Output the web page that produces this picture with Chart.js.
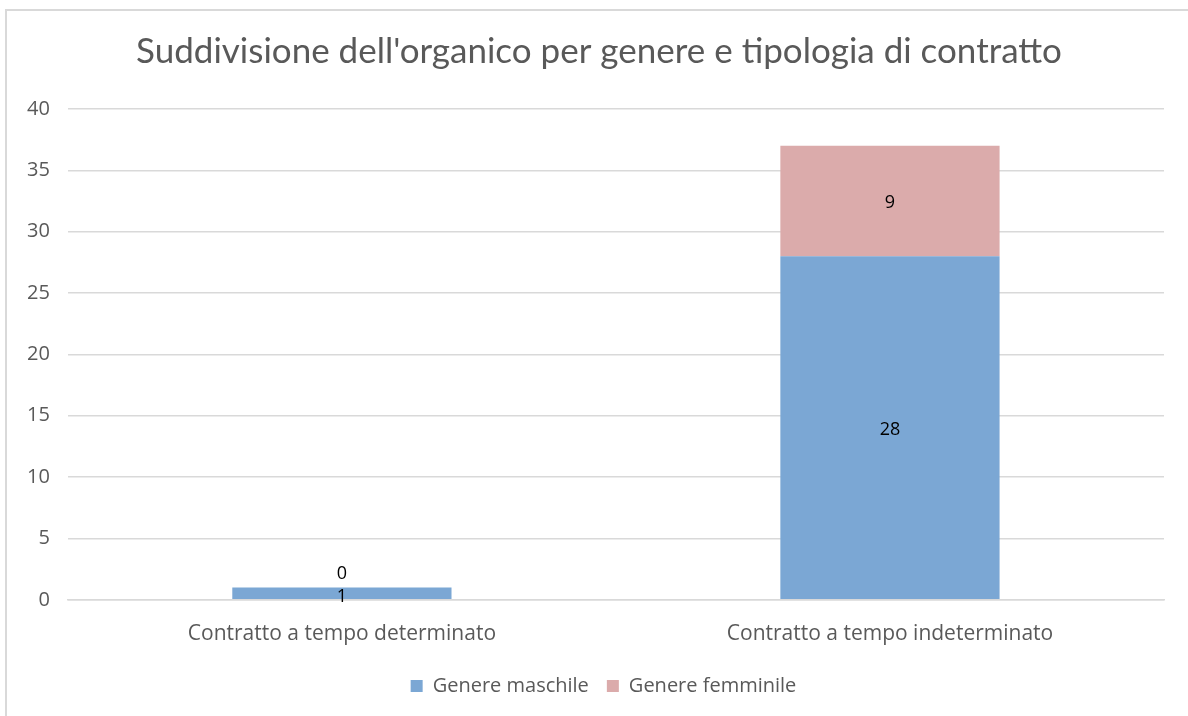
<!DOCTYPE html>
<html>
<head>
<meta charset="utf-8">
<script src="https://cdn.jsdelivr.net/npm/chart.js@4/dist/chart.umd.min.js"></script>
<style>
  html, body { margin: 0; padding: 0; background: #fff; }
  #wrap { position: absolute; left: 0; top: 0; width: 1188px; height: 716px; }
  #frame { position: absolute; left: 5px; top: 9px; width: 1183px; height: 707px;
           border-top: 2px solid #d9d9d9; border-left: 2px solid #d9d9d9; box-sizing: border-box; }
  canvas { position: absolute; left: 0; top: 0; }
</style>
</head>
<body>
<div id="wrap">
  <div id="frame"></div>
  <canvas id="c" width="1188" height="716"></canvas>
</div>
<script>
const titleText = "Suddivisione dell'organico per genere e tipologia di contratto";
const categories = ["Contratto a tempo determinato", "Contratto a tempo indeterminato"];
const seriesNames = ["Genere maschile", "Genere femminile"];
const maschile = [1, 28];
const femminile = [0, 9];
const yTicks = { min: 0, max: 40, step: 5 };

const labelPlugin = {
  id: 'barLabels',
  afterDatasetsDraw(chart) {
    const ctx = chart.ctx;
    ctx.save();
    ctx.font = '18px "Open Sans"';
    ctx.fillStyle = '#000';
    ctx.textAlign = 'center';
    ctx.textBaseline = 'middle';
    chart.data.datasets.forEach((ds, di) => {
      const meta = chart.getDatasetMeta(di);
      meta.data.forEach((el, i) => {
        const v = ds.data[i];
        const p = el.getProps(['x', 'y', 'base'], true);
        let y = (p.y + p.base) / 2 + 2;
        if (v === 0) y = p.y - 14;
        else if (Math.abs(p.base - p.y) < 20) y = p.base - 2;
        ctx.fillText(String(v), p.x, y);
      });
    });
    ctx.restore();
  }
};

// layout tweaks: centre title on canvas, tighten space above legend, nudge legend right
const LEGEND_TRIM = 10;
const boxShift = {
  id: 'boxShift',
  beforeLayout(chart) {
    const lg = chart.legend;
    if (lg && !lg._trimPatched) {
      const orig = lg.fit;
      lg.fit = function () { orig.call(this); this.height -= LEGEND_TRIM; };
      lg._trimPatched = true;
    }
  },
  afterLayout(chart) {
    if (chart.titleBlock) {
      chart.titleBlock.left = 10;
      chart.titleBlock.right = chart.width;
      chart.titleBlock.width = chart.width - 10;
    }
    if (chart.legend) {
      chart.legend.left += 17;
      chart.legend.right += 17;
      chart.legend.top -= LEGEND_TRIM + 1;
      chart.legend.bottom -= LEGEND_TRIM + 1;
    }
  }
};

new Chart(document.getElementById('c'), {
  type: 'bar',
  data: {
    labels: categories,
    datasets: [
      { label: seriesNames[0], data: maschile, backgroundColor: '#7ba7d4', borderWidth: 0 },
      { label: seriesNames[1], data: femminile, backgroundColor: '#dbabab', borderWidth: 0 }
    ]
  },
  options: {
    responsive: false,
    animation: false,
    devicePixelRatio: 1,
    layout: { padding: { left: 9, right: 24, top: 0, bottom: 9 } },
    datasets: { bar: { barPercentage: 0.4, categoryPercentage: 1.0 } },
    scales: {
      x: {
        stacked: true,
        grid: { display: false, drawTicks: false },
        border: { display: true, color: '#d9d9d9', width: 1.5 },
        ticks: { color: '#595959', font: { family: 'Open Sans', size: 21 }, padding: 22 }
      },
      y: {
        stacked: true,
        min: yTicks.min, max: yTicks.max,
        grid: { color: '#d9d9d9', lineWidth: 1.5, drawTicks: false },
        border: { display: false },
        ticks: { stepSize: yTicks.step, color: '#595959', font: { family: 'Open Sans', size: 20 }, padding: 18 }
      }
    },
    plugins: {
      title: {
        display: true, text: titleText, color: '#595959',
        font: { family: 'Lato', size: 35, weight: 'normal' },
        padding: { top: 31, bottom: 36 }
      },
      legend: {
        position: 'bottom',
        labels: { color: '#595959', font: { family: 'Open Sans', size: 20 }, boxWidth: 12, boxHeight: 12, padding: 18 }
      },
      tooltip: { enabled: false }
    }
  },
  plugins: [labelPlugin, boxShift]
});
</script>
</body>
</html>
